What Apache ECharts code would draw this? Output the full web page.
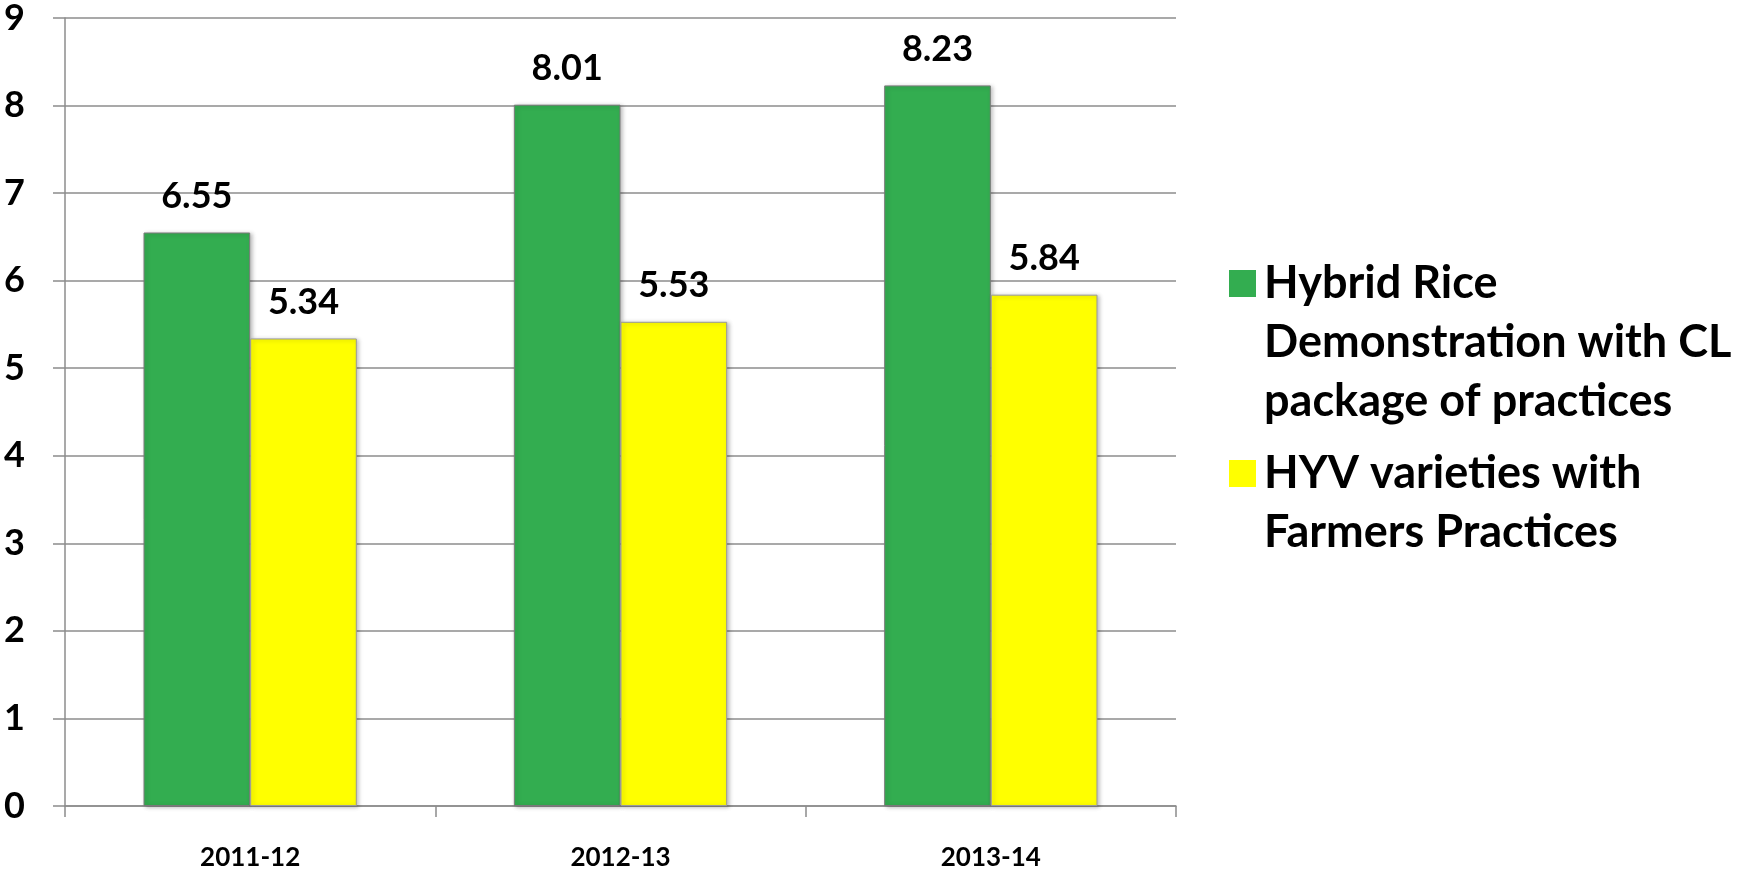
<!DOCTYPE html>
<html>
<head>
<meta charset="utf-8">
<script src="https://cdn.jsdelivr.net/npm/echarts@6/dist/echarts.min.js"></script>
<style>
html,body{margin:0;padding:0;background:#fff;}
#chart{width:1760px;height:874px;}
</style>
</head>
<body>
<div id="chart"></div>
<script>
const categories = ['2011-12', '2012-13', '2013-14'];
const seriesNames = ['Hybrid Rice\nDemonstration with CL\npackage of practices', 'HYV varieties with\nFarmers Practices'];
const hybridValues = [6.55, 8.01, 8.23];
const hyvValues = [5.34, 5.53, 5.84];
const yTicks = [0, 1, 2, 3, 4, 5, 6, 7, 8, 9];

const FONT = 'Lato';
const GREEN = '#33AD50';
const YELLOW = '#FFFF00';
const GRIDC = '#8c8c8c';
const LH = 59;
const ICON = 27;

const chart = echarts.init(document.getElementById('chart'), null, {renderer: 'canvas'});

function iconPath(h, center) {
  const t = center - ICON / 2;
  return 'path://M0,0h0.01v0.01h-0.01z M0,' + t + 'h' + ICON + 'v' + ICON + 'h-' + ICON + 'z M' + (ICON - 0.02) + ',' + (h - 0.02) + 'h0.02v0.02h-0.02z';
}

const legendText = {
  fontFamily: FONT, fontWeight: 'bold', fontSize: 45, color: '#000',
  lineHeight: LH, padding: [0, 0, 0, 3]
};

const option = {
  backgroundColor: '#fff',
  animation: false,
  grid: {left: 65, right: 584, top: 18, bottom: 68, containLabel: false},
  legend: [
    {
      left: 1229, top: 254, orient: 'vertical', padding: 0,
      itemWidth: ICON, itemHeight: LH * 3, itemGap: 0,
      itemStyle: {borderWidth: 0},
      textStyle: legendText,
      data: [{name: seriesNames[0], icon: iconPath(LH * 3, LH / 2)}]
    },
    {
      left: 1229, top: 444, orient: 'vertical', padding: 0,
      itemWidth: ICON, itemHeight: LH * 2, itemGap: 0,
      itemStyle: {borderWidth: 0},
      textStyle: legendText,
      data: [{name: seriesNames[1], icon: iconPath(LH * 2, LH / 2)}]
    }
  ],
  xAxis: {
    type: 'category',
    data: categories,
    boundaryGap: true,
    axisLine: {lineStyle: {color: GRIDC, width: 1.5}},
    axisTick: {show: true, length: 11, alignWithLabel: false, lineStyle: {color: GRIDC, width: 1.5}},
    axisLabel: {margin: 39, fontFamily: FONT, fontWeight: 'bold', fontSize: 26, color: '#000'}
  },
  yAxis: {
    type: 'value',
    min: 0, max: 9, interval: 1,
    axisLine: {show: true, lineStyle: {color: GRIDC, width: 1.5}},
    axisTick: {show: true, inside: false, length: 12, lineStyle: {color: GRIDC, width: 1.5}},
    splitLine: {show: true, lineStyle: {color: GRIDC, width: 1.5}},
    axisLabel: {
      margin: 40, fontFamily: FONT, fontWeight: 'bold', fontSize: 36, color: '#000',
      formatter: function (v) { return yTicks.indexOf(v) >= 0 ? String(v) : ''; }
    }
  },
  series: [
    {
      name: seriesNames[0], type: 'bar', data: hybridValues,
      barGap: '0%', barCategoryGap: '42.4%',
      itemStyle: {color: GREEN, borderColor: '#7a7a7a', borderWidth: 1,
        shadowColor: 'rgba(0,0,0,0.25)', shadowBlur: 4, shadowOffsetX: 2, shadowOffsetY: 1},
      label: {show: true, position: 'top', distance: 18, fontFamily: FONT, fontWeight: 'bold', fontSize: 36, color: '#000',
        formatter: function (p) { return p.value.toFixed(2); }}
    },
    {
      name: seriesNames[1], type: 'bar', data: hyvValues,
      barGap: '0%', barCategoryGap: '42.4%',
      itemStyle: {color: YELLOW, borderColor: '#9a9a9a', borderWidth: 1,
        shadowColor: 'rgba(0,0,0,0.25)', shadowBlur: 4, shadowOffsetX: 2, shadowOffsetY: 1},
      label: {show: true, position: 'top', distance: 18, fontFamily: FONT, fontWeight: 'bold', fontSize: 36, color: '#000',
        formatter: function (p) { return p.value.toFixed(2); }}
    }
  ]
};
chart.setOption(option);
</script>
</body>
</html>
